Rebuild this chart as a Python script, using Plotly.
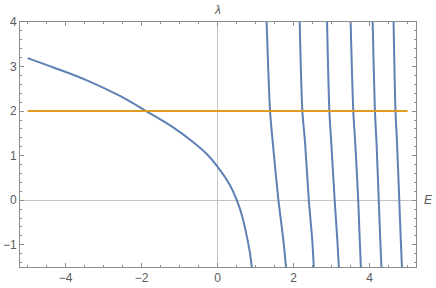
import plotly.graph_objects as go

# Left (ground-state) branch: E vs lambda
left_E = [-5.0, -4.32, -3.44, -2.57, -1.88, -1.16, -0.64, -0.28, 0.0, 0.31, 0.505, 0.65, 0.75, 0.84, 0.90]
left_L = [3.19, 2.98, 2.69, 2.34, 2.0, 1.63, 1.30, 1.03, 0.75, 0.36, 0.0, -0.37, -0.74, -1.13, -1.5]

# Near-vertical branches, sampled at these lambda levels
branch_L = [4.0, 2.0, 1.3, 0.0, -0.9, -1.5]
branch1_E = [1.29, 1.38, 1.45, 1.60, 1.73, 1.80]
branch2_E = [2.16, 2.23, 2.30, 2.40, 2.49, 2.53]
branch3_E = [2.88, 2.94, 2.99, 3.08, 3.15, 3.19]
branch4_E = [3.50, 3.57, 3.62, 3.70, 3.74, 3.77]
branch5_E = [4.08, 4.14, 4.18, 4.24, 4.28, 4.31]
branch6_E = [4.63, 4.68, 4.72, 4.78, 4.82, 4.85]
branches = [branch1_E, branch2_E, branch3_E, branch4_E, branch5_E, branch6_E]

# Horizontal reference line
hline_E = [-5.0, 5.0]
hline_L = [2.0, 2.0]

BLUE = "#5E81B5"
ORANGE = "#E19C24"
FRAME = "#8c8c8c"
TICKFONT = dict(family="Liberation Sans, Arial, sans-serif", size=12, color="#5a5a5a")

fig = go.Figure()
fig.add_trace(go.Scatter(x=left_E, y=left_L, mode="lines",
                         line=dict(color=BLUE, width=2, shape="spline", smoothing=1.0),
                         showlegend=False, hoverinfo="skip"))
for b in branches:
    fig.add_trace(go.Scatter(x=b, y=branch_L, mode="lines",
                             line=dict(color=BLUE, width=2, shape="spline", smoothing=0.8),
                             showlegend=False, hoverinfo="skip"))
fig.add_trace(go.Scatter(x=hline_E, y=hline_L, mode="lines",
                         line=dict(color=ORANGE, width=2),
                         showlegend=False, hoverinfo="skip"))

fig.update_layout(
    width=436, height=288,
    margin=dict(l=20, r=20, t=22, b=21, autoexpand=False),
    plot_bgcolor="white", paper_bgcolor="white",
    xaxis=dict(range=[-5.2, 5.22], showgrid=False, automargin=False,
               zeroline=True, zerolinecolor="#c4c4c4", zerolinewidth=1,
               showline=True, linecolor=FRAME, linewidth=1, mirror="ticks",
               ticks="inside", ticklen=4, tickcolor=FRAME, tick0=0, dtick=2,
               tickfont=TICKFONT,
               minor=dict(ticks="inside", ticklen=2, tickcolor=FRAME, dtick=0.5, showgrid=False)),
    yaxis=dict(range=[-1.5, 4.0], showgrid=False, automargin=False,
               zeroline=True, zerolinecolor="#c4c4c4", zerolinewidth=1,
               showline=True, linecolor=FRAME, linewidth=1, mirror="ticks",
               ticks="inside", ticklen=4, tickcolor=FRAME, tick0=0, dtick=1,
               tickfont=TICKFONT,
               minor=dict(ticks="inside", ticklen=2, tickcolor=FRAME, dtick=0.2, showgrid=False)),
    annotations=[
        dict(text="<i>λ</i>", x=0, xref="x", y=1, yref="paper", yanchor="bottom",
             yshift=3, showarrow=False, font=dict(family="Liberation Sans, Arial, sans-serif", size=12, color="#5a5a5a")),
        dict(text="<i>E</i>", x=1, xref="paper", y=0, yref="y", xanchor="left",
             xshift=6, showarrow=False, font=dict(family="Liberation Sans, Arial, sans-serif", size=12, color="#5a5a5a")),
    ],
)

fig.write_html("out.html", config={"displayModeBar": False},
               post_script="document.body.style.margin='0';document.body.style.overflow='hidden';")
